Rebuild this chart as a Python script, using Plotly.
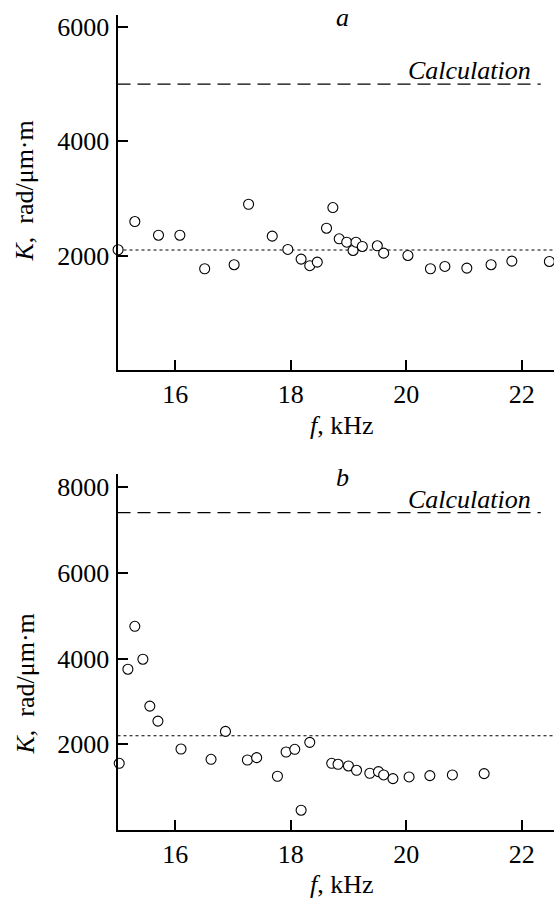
import plotly.graph_objects as go

# ---- data ----
f_a = [15.01, 15.30, 15.71, 16.08, 16.51, 17.02, 17.27, 17.68, 17.95, 18.18, 18.33, 18.46,
       18.62, 18.73, 18.84, 18.97, 19.08, 19.13, 19.24, 19.50, 19.61, 20.03, 20.42, 20.67,
       21.05, 21.47, 21.83, 22.48]
K_a = [2105, 2598, 2359, 2359, 1773, 1843, 2900, 2342, 2110, 1941, 1826, 1889,
       2481, 2842, 2296, 2237, 2092, 2237, 2162, 2174, 2045, 2005, 1773, 1813,
       1784, 1843, 1906, 1900]

f_b = [15.03, 15.18, 15.30, 15.44, 15.56, 15.70, 16.10, 16.62, 16.87, 17.25, 17.41, 17.77,
       17.92, 18.07, 18.18, 18.33, 18.71, 18.82, 19.00, 19.14, 19.37, 19.52, 19.61, 19.77,
       20.05, 20.41, 20.80, 21.35]
K_b = [1558, 3751, 4751, 3984, 2891, 2542, 1891, 1651, 2302, 1635, 1690, 1256,
       1821, 1884, 465, 2047, 1558, 1535, 1496, 1395, 1326, 1364, 1287, 1202,
       1240, 1271, 1287, 1318]

calc_a = 5000
mean_a = 2100
calc_b = 7400
mean_b = 2200
line_f = [15.0, 22.33]
mean_f = [15.0, 22.6]

x_ticks = [16, 18, 20, 22]
y_ticks_a = [2000, 4000, 6000]
y_ticks_b = [2000, 4000, 6000, 8000]

FONT = "Liberation Serif"
FS = 26

fig = go.Figure()

marker = dict(symbol="circle", size=10, color="white", line=dict(color="black", width=1.1))

# panel a
fig.add_trace(go.Scatter(x=line_f, y=[calc_a, calc_a], mode="lines",
                         line=dict(color="black", width=1.3, dash="13px,7px"),
                         xaxis="x", yaxis="y", showlegend=False))
fig.add_trace(go.Scatter(x=mean_f, y=[mean_a, mean_a], mode="lines",
                         line=dict(color="black", width=1.2, dash="3px,3px"),
                         xaxis="x", yaxis="y", showlegend=False))
fig.add_trace(go.Scatter(x=f_a, y=K_a, mode="markers", marker=marker,
                         xaxis="x", yaxis="y", showlegend=False, cliponaxis=False))
# panel b
fig.add_trace(go.Scatter(x=line_f, y=[calc_b, calc_b], mode="lines",
                         line=dict(color="black", width=1.3, dash="13px,7px"),
                         xaxis="x2", yaxis="y2", showlegend=False))
fig.add_trace(go.Scatter(x=mean_f, y=[mean_b, mean_b], mode="lines",
                         line=dict(color="black", width=1.2, dash="3px,3px"),
                         xaxis="x2", yaxis="y2", showlegend=False))
fig.add_trace(go.Scatter(x=f_b, y=K_b, mode="markers", marker=marker,
                         xaxis="x2", yaxis="y2", showlegend=False, cliponaxis=False))

W, H = 554, 899
xdom = [117.5 / W, 1.0]
ydom_a = [1 - 369 / H, 1 - 12.7 / H]
ydom_b = [1 - 830 / H, 1 - 473.3 / H]

axis_common = dict(showline=True, linecolor="black", linewidth=2, showgrid=False, zeroline=False,
                   ticks="inside", ticklen=10, tickwidth=1.5, tickcolor="black",
                   tickfont=dict(family=FONT, size=FS, color="black"))

fig.update_layout(
    width=W, height=H,
    margin=dict(l=0, r=0, t=0, b=0),
    paper_bgcolor="white", plot_bgcolor="white",
    xaxis=dict(domain=xdom, range=[15, 22.56], tickvals=x_ticks, anchor="y",
               ticklabelstandoff=0, **axis_common),
    yaxis=dict(domain=ydom_a, range=[0, 6213], tickvals=y_ticks_a, anchor="x",
               ticklabelstandoff=1, **axis_common),
    xaxis2=dict(domain=xdom, range=[15, 22.56], tickvals=x_ticks, anchor="y2",
                ticklabelstandoff=0, **axis_common),
    yaxis2=dict(domain=ydom_b, range=[0, 8295], tickvals=y_ticks_b, anchor="x2",
                ticklabelstandoff=1, **axis_common),
)

def ann(text, x, y, angle=0, size=FS):
    fig.add_annotation(text=text, x=x / W, y=1 - y / H, xref="paper", yref="paper",
                       showarrow=False, textangle=angle, xanchor="center", yanchor="middle",
                       font=dict(family=FONT, size=size, color="black"))

ann("<i>a</i>", 342, 16)
ann("<i>b</i>", 342, 477)
ann("<i>Calculation</i>", 469, 69)
ann("<i>Calculation</i>", 469, 499)
ann("<i>f</i>, kHz", 342, 424)
ann("<i>f</i>, kHz", 342, 884)
ann("<i>K</i>,  rad/μm·m", 25, 190, angle=-90)
ann("<i>K</i>,  rad/μm·m", 25, 684, angle=-90)

fig.write_html("out.html", config={"displayModeBar": False},
               post_script="document.body.style.margin='0';document.body.style.overflow='hidden';")
